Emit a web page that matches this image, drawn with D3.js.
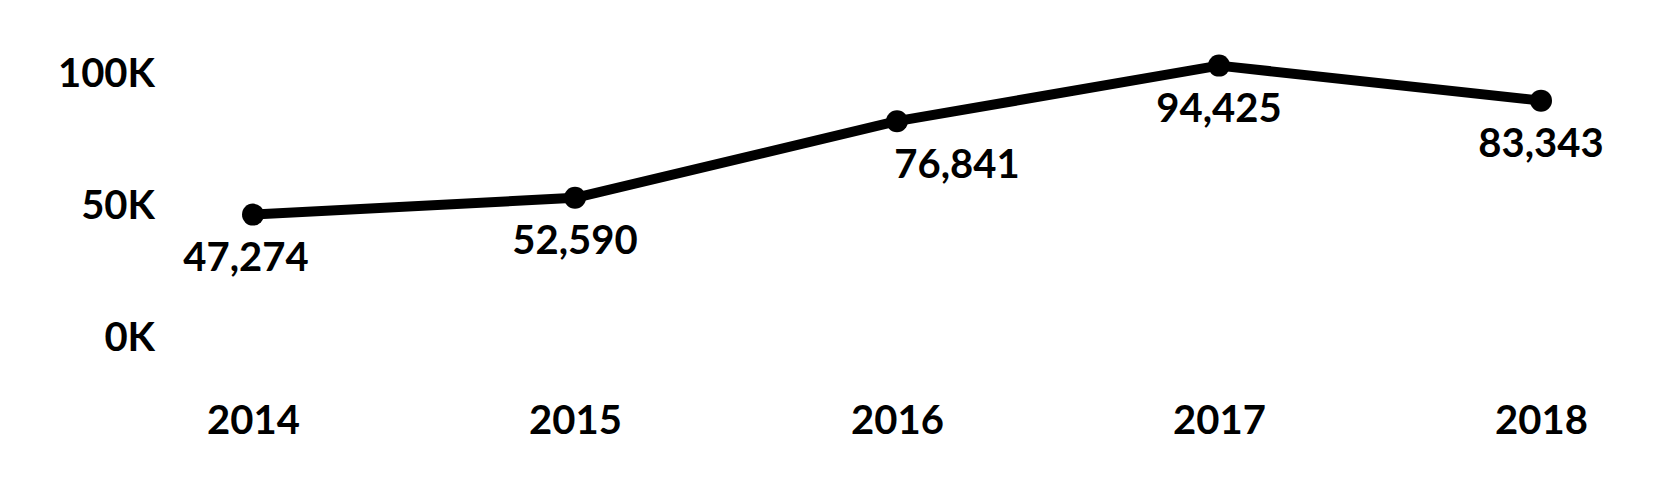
<!DOCTYPE html>
<html>
<head>
<meta charset="utf-8">
<script src="https://cdn.jsdelivr.net/npm/d3@7"></script>
<style>
  html, body { margin: 0; padding: 0; background: #fff; }
  text { font-family: Lato, "Open Sans", sans-serif; font-weight: 700; fill: #000; }
</style>
</head>
<body>
<svg id="chart" width="1653" height="500"></svg>
<script>
const years = ['2014', '2015', '2016', '2017', '2018'];
const counts = [47274, 52590, 76841, 94425, 83343];
const yTicks = [0, 50000, 100000];

const width = 1653;
const height = 500;
const fontSize = 40;

const svg = d3.select('#chart');

const x = d3.scalePoint().domain(years).range([253, 1541]);
const y = d3.scaleLinear().domain([0, 100000]).range([364, 48]);
// tick labels sit a bit closer together than the data scale
const yLabel = d3.scaleLinear().domain([0, 100000]).range([336, 72]);

const data = years.map((year, i) => ({ year, value: counts[i] }));

// y axis labels
const yAxis = svg.append('g')
  .attr('transform', 'translate(155,0)')
  .call(d3.axisLeft(yLabel).tickValues(yTicks).tickSize(0).tickPadding(0)
    .tickFormat((d) => d / 1000 + 'K'));
yAxis.select('.domain').remove();
yAxis.selectAll('text')
  .attr('font-size', fontSize)
  .attr('font-family', null)
  .attr('dy', '0.36em');

// x axis labels
const xAxis = svg.append('g')
  .attr('transform', 'translate(0,420)')
  .call(d3.axisBottom(x).tickSize(0).tickPadding(0));
xAxis.select('.domain').remove();
xAxis.selectAll('text')
  .attr('font-size', fontSize)
  .attr('font-family', null)
  .attr('y', 0)
  .attr('dy', '0.36em');

// line
const line = d3.line()
  .x((d) => x(d.year))
  .y((d) => y(d.value));

svg.append('path')
  .datum(data)
  .attr('fill', 'none')
  .attr('stroke', '#000')
  .attr('stroke-width', 10)
  .attr('stroke-linejoin', 'round')
  .attr('d', line);

svg.selectAll('.dot')
  .data(data)
  .enter()
  .append('circle')
  .attr('class', 'dot')
  .attr('cx', (d) => x(d.year))
  .attr('cy', (d) => y(d.value))
  .attr('r', 11)
  .attr('fill', '#000');

// value labels under the points; 2016 is nudged right to clear the line
const labelShift = { '2014': -7, '2016': 60 };
const fmt = d3.format(',');

svg.selectAll('.val')
  .data(data)
  .enter()
  .append('text')
  .attr('class', 'val')
  .attr('x', (d) => x(d.year) + (labelShift[d.year] || 0))
  .attr('y', (d) => y(d.value) + 42)
  .attr('dy', '0.36em')
  .attr('text-anchor', 'middle')
  .attr('font-size', fontSize)
  .text((d) => fmt(d.value));
</script>
</body>
</html>
